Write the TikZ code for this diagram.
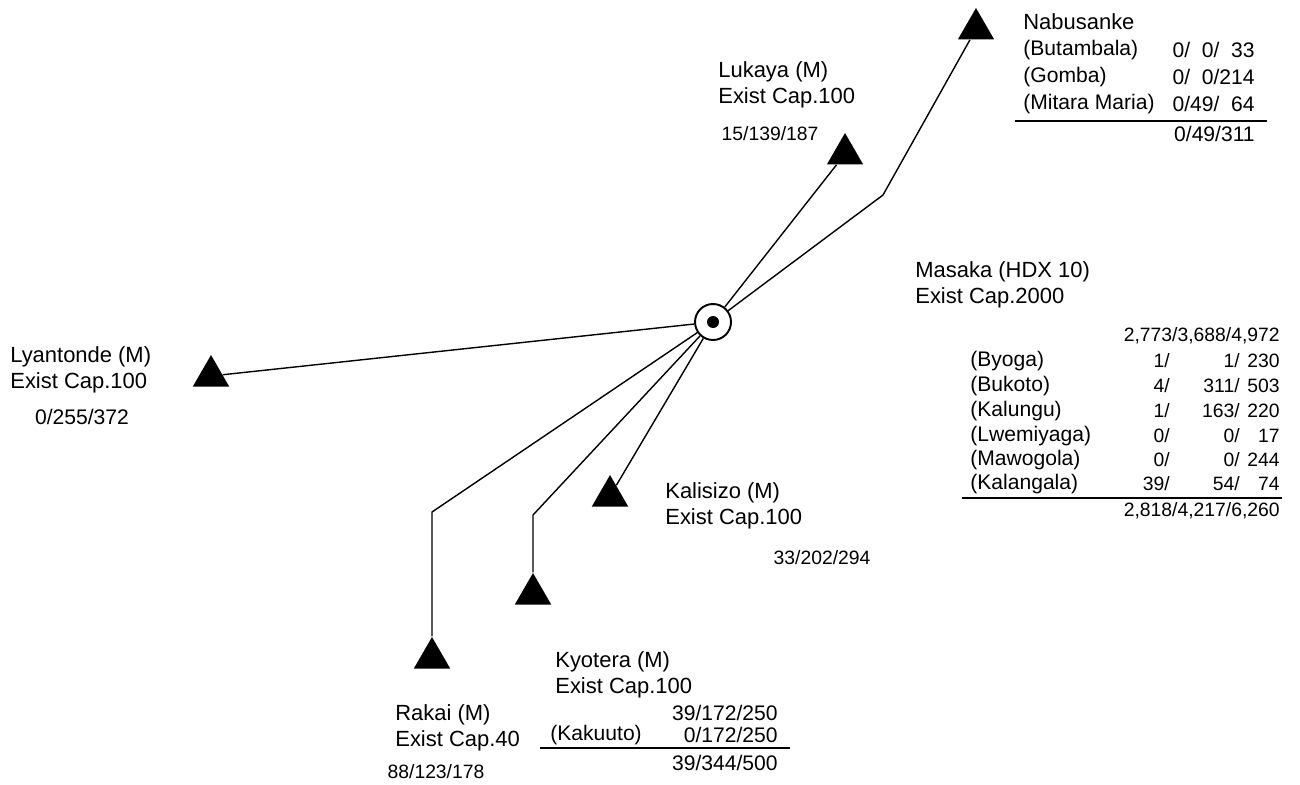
\documentclass[tikz,border=0pt]{standalone}
\usepackage{fontspec}
\setmainfont{Liberation Sans}
\usetikzlibrary{positioning,shapes.geometric}
\newcommand{\mrow}[3]{\makebox[1cm][r]{#1}\makebox[1.4cm][r]{#2}\makebox[0.8cm][r]{#3}}
\tikzset{
  lbl/.style={inner sep=0pt, align=left, anchor=west, font=\fontsize{12.5}{14.8}\selectfont},
  num/.style={inner sep=0pt, font=\fontsize{11}{13}\selectfont},
  tab/.style={inner sep=0pt, font=\fontsize{12}{14}\selectfont},
  site/.style={regular polygon, regular polygon sides=3, fill=black, inner sep=0pt, minimum size=0.84cm},
  hub/.style={circle, draw, line width=1.1pt, fill=white, minimum size=0.72cm, inner sep=0pt},
  link/.style={line width=0.8pt},
  rule/.style={line width=0.6pt},
}
\begin{document}
\begin{tikzpicture}[x=0.02cm, y=-0.02cm]
      \useasboundingbox (0,0) rectangle (1300,784);
      % substation and sites
      \node[hub] (masaka) at (713,322) {};
      \fill (masaka) circle (6);
      \node[site] (nab) at (976,29) {};
      \node[site] (luk) at (845,154) {};
      \node[site] (lya) at (211,376) {};
      \node[site] (kal) at (610,496) {};
      \node[site] (kyo) at (533,594) {};
      \node[site] (rak) at (432,658) {};
      \coordinate (nabbend) at (883,195);
      \coordinate (kyobend) at (533,515);
      \coordinate (rakbend) at (432,512);
      \draw[link] (masaka) -- (nabbend) -- (nab);
      \draw[link] (masaka) -- (luk);
      \draw[link] (masaka) -- (lya);
      \draw[link] (masaka) -- (kal);
      \draw[link] (masaka) -- (kyobend) -- (kyo);
      \draw[link] (masaka) -- (rakbend) -- (rak);
      % Nabusanke
      \node[lbl] (nabname) at (1023,22) {Nabusanke};
      \node[tab, anchor=west] (nab1) at (1023,50) {(Butambala)};
      \node[tab, anchor=west] (nab2) at (1023,77) {(Gomba)};
      \node[tab, anchor=west] (nab3) at (1023,104) {(Mitara Maria)};
      \node[tab, anchor=east] (nab1v) at (1255,50) {0/\phantom{0}0/\phantom{0}33};
      \node[tab, anchor=east] (nab2v) at (1255,77) {0/\phantom{0}0/214};
      \node[tab, anchor=east] (nab3v) at (1255,104) {0/49/\phantom{0}64};
      \coordinate (nabra) at (1015,121);
      \coordinate (nabrb) at (1267,121);
      \draw[rule] (nabra) -- (nabrb);
      \node[tab, anchor=east] (nabtot) at (1255,134) {0/49/311};
      % Lukaya
      \node[lbl] (lukname) at (718,85) {Lukaya (M)\\Exist Cap.100};
      \node[num] (lukval) at (770,134) {15/139/187};
      % Masaka
      \node[lbl] (masname) at (915,284.5) {Masaka (HDX 10)\\Exist Cap.2000};
      \node[num, anchor=east] (masval) at (1280,336) {2,773/3,688/4,972};
      \node[tab, anchor=west] (mas1) at (970,361) {(Byoga)};
      \node[tab, anchor=west] (mas2) at (970,386) {(Bukoto)};
      \node[tab, anchor=west] (mas3) at (970,411) {(Kalungu)};
      \node[tab, anchor=west] (mas4) at (970,436) {(Lwemiyaga)};
      \node[tab, anchor=west] (mas5) at (970,460) {(Mawogola)};
      \node[tab, anchor=west] (mas6) at (970,484) {(Kalangala)};
      \node[num, anchor=east] (mas1v) at (1280,361) {\mrow{1/}{1/}{230}};
      \node[num, anchor=east] (mas2v) at (1280,386) {\mrow{4/}{311/}{503}};
      \node[num, anchor=east] (mas3v) at (1280,411) {\mrow{1/}{163/}{220}};
      \node[num, anchor=east] (mas4v) at (1280,436) {\mrow{0/}{0/}{17}};
      \node[num, anchor=east] (mas5v) at (1280,460) {\mrow{0/}{0/}{244}};
      \node[num, anchor=east] (mas6v) at (1280,484) {\mrow{39/}{54/}{74}};
      \coordinate (masra) at (962,498);
      \coordinate (masrb) at (1282,498);
      \draw[rule] (masra) -- (masrb);
      \node[num, anchor=east] (mastot) at (1280,511) {2,818/4,217/6,260};
      % Lyantonde
      \node[lbl] (lyaname) at (10,370) {Lyantonde (M)\\Exist Cap.100};
      \node[tab] (lyaval) at (82,417) {0/255/372};
      % Kalisizo
      \node[lbl] (kalname) at (665,506) {Kalisizo (M)\\Exist Cap.100};
      \node[num] (kalval) at (822,558) {33/202/294};
      % Kyotera
      \node[lbl] (kyoname) at (555,675) {Kyotera (M)\\Exist Cap.100};
      \node[tab, anchor=east] (kyoval) at (778,713) {39/172/250};
      \node[tab, anchor=west] (kyo1) at (550,735) {(Kakuuto)};
      \node[tab, anchor=east] (kyo1v) at (778,735) {0/172/250};
      \coordinate (kyora) at (540,748);
      \coordinate (kyorb) at (790,748);
      \draw[rule] (kyora) -- (kyorb);
      \node[tab, anchor=east] (kyotot) at (778,763) {39/344/500};
      % Rakai
      \node[lbl] (rakname) at (395,727.5) {Rakai (M)\\Exist Cap.40};
      \node[num] (rakval) at (436,772) {88/123/178};
\end{tikzpicture}
\end{document}
